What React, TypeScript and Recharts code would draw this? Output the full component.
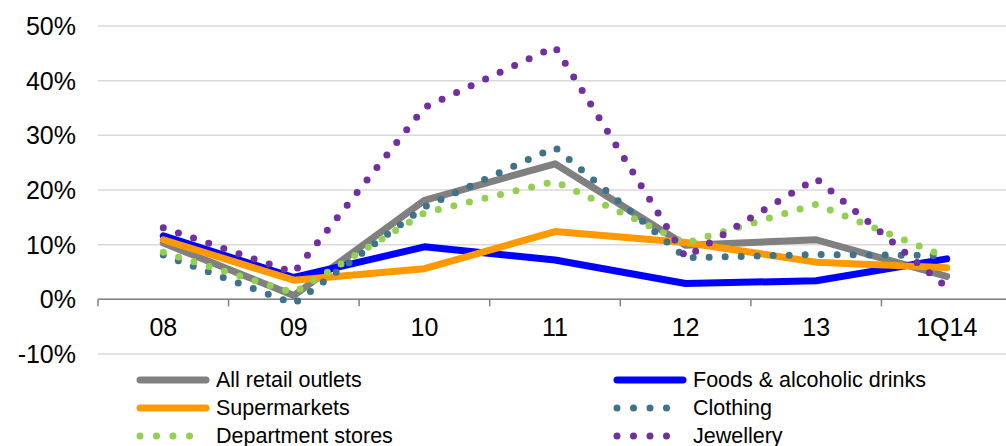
import React from 'react';
import {
  LineChart,
  Line,
  XAxis,
  YAxis,
  CartesianGrid,
  ReferenceLine,
} from 'recharts';

const categories = ['08', '09', '10', '11', '12', '13', '1Q14'];
const allRetail = [10.3, 0.7, 18.1, 24.8, 9.9, 10.9, 4.2];
const foods = [11.6, 4.0, 9.6, 7.2, 2.9, 3.4, 7.4];
const supermarkets = [10.9, 3.5, 5.6, 12.4, 10.4, 6.8, 5.8];
const clothing = [8.1, -0.8, 16.9, 27.8, 7.6, 8.2, 8.0];
const deptStores = [8.6, 1.2, 15.8, 21.6, 10.3, 17.4, 7.7];
const jewellery = [13.1, 4.9, 35.1, 46.2, 7.7, 22.1, 2.2];
const yTicks = [-10, 0, 10, 20, 30, 40, 50];

const series = [
  { key: 'all', name: 'All retail outlets', color: '#808080', dotted: false, values: allRetail },
  { key: 'foods', name: 'Foods & alcoholic drinks', color: '#0000ff', dotted: false, values: foods },
  { key: 'super', name: 'Supermarkets', color: '#ff9900', dotted: false, values: supermarkets },
  { key: 'clothing', name: 'Clothing', color: '#3e7389', dotted: true, values: clothing },
  { key: 'dept', name: 'Department stores', color: '#92d050', dotted: true, values: deptStores },
  { key: 'jewel', name: 'Jewellery', color: '#7030a0', dotted: true, values: jewellery },
];

const data = categories.map((name, i) => {
  const row: Record<string, string | number> = { name };
  series.forEach((s) => {
    row[s.key] = s.values[i];
  });
  return row;
});

const FONT = '"Liberation Sans", Arial, Helvetica, sans-serif';
const TOP = 26;
const PLOT_H = 328;
const Y_MIN = -10;
const Y_MAX = 50;
const zeroY = TOP + (PLOT_H * Y_MAX) / (Y_MAX - Y_MIN);

function CategoryTick(props: any) {
  const { x, payload, index } = props;
  const half = payload?.offset || 65.4;
  const left = x - half;
  const right = x + half;
  return (
    <g>
      <line x1={left} x2={left} y1={zeroY} y2={zeroY + 7} stroke="#808080" strokeWidth={1.5} />
      {index === categories.length - 1 && (
        <line x1={right} x2={right} y1={zeroY} y2={zeroY + 7} stroke="#808080" strokeWidth={1.5} />
      )}
      <text
        x={x}
        y={zeroY + 28}
        textAnchor="middle"
        dominantBaseline="central"
        fontSize={25}
        fontFamily={FONT}
        fill="#000"
      >
        {payload.value}
      </text>
    </g>
  );
}

function LegendIcon({ color, dotted }: { color: string; dotted: boolean }) {
  return (
    <svg width={74} height={14} style={{ display: 'block' }}>
      {dotted ? (
        <line x1={4} x2={70} y1={7} y2={7} stroke={color} strokeWidth={7} strokeLinecap="round" strokeDasharray="0 16.5" />
      ) : (
        <line x1={4} x2={70} y1={7} y2={7} stroke={color} strokeWidth={7} strokeLinecap="round" />
      )}
    </svg>
  );
}

export default function App() {
  return (
    <div style={{ position: 'relative', width: 1006, height: 446, overflow: 'hidden', fontFamily: FONT }}>
      <style>{'body{margin:0}'}</style>
      <LineChart
        width={1012}
        height={446}
        data={data}
        margin={{ top: TOP, right: 0, bottom: 62, left: 0 }}
      >
        <CartesianGrid vertical={false} stroke="#d9d9d9" strokeWidth={1.5} />
        <XAxis
          dataKey="name"
          scale="band"
          axisLine={false}
          tickLine={false}
          height={30}
          interval={0}
          tick={<CategoryTick />}
        />
        <YAxis
          domain={[Y_MIN, Y_MAX]}
          ticks={yTicks}
          interval={0}
          width={98}
          axisLine={false}
          tickLine={false}
          tickMargin={16}
          tickFormatter={(v) => `${v}%`}
          tick={{ fontSize: 25, fill: '#000', fontFamily: FONT }}
        />
        <ReferenceLine y={0} stroke="#808080" strokeWidth={1.5} />
        {series.map((s) => (
          <Line
            key={s.key}
            type="linear"
            dataKey={s.key}
            name={s.name}
            stroke={s.color}
            strokeWidth={7}
            strokeDasharray={s.dotted ? '0 16' : undefined}
            strokeLinecap="round"
            strokeLinejoin="round"
            dot={false}
            activeDot={false}
            isAnimationActive={false}
          />
        ))}
      </LineChart>
      {series.map((s, i) => {
        const col = i % 2;
        const row = Math.floor(i / 2);
        return (
          <div
            key={s.key}
            style={{
              position: 'absolute',
              left: col === 0 ? 136 : 613,
              top: 380 + row * 28 - 12,
              height: 24,
              display: 'flex',
              alignItems: 'center',
              fontSize: 21.5,
              color: '#000',
              whiteSpace: 'nowrap',
            }}
          >
            <LegendIcon color={s.color} dotted={s.dotted} />
            <span style={{ marginLeft: 6 }}>{s.name}</span>
          </div>
        );
      })}
    </div>
  );
}
